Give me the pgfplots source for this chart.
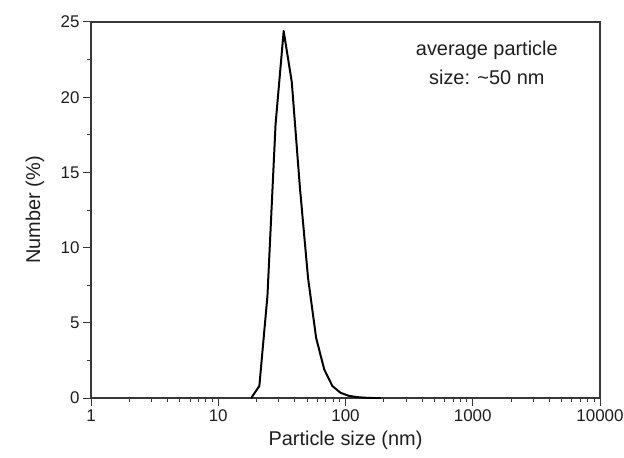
\documentclass[border=0pt]{standalone}
\usepackage{pgfplots}
\pgfplotsset{compat=1.18}
\usepackage{fontspec}
\setmainfont{Liberation Sans}
\definecolor{txt}{RGB}{30,30,30}
\definecolor{frame}{RGB}{55,55,55}
\begin{document}
\begin{tikzpicture}
\begin{axis}[
  scale only axis,
  width=509bp, height=376bp,
  xmode=log, log basis x=10,
  xmin=1, xmax=10000, ymin=0, ymax=25,
  xtick={1,10,100,1000,10000},
  xticklabels={1,10,100,1000,10000},
  minor xtick={2,3,4,5,6,7,8,9,20,30,40,50,60,70,80,90,200,300,400,500,600,700,800,900,2000,3000,4000,5000,6000,7000,8000,9000},
  ytick={0,5,10,15,20,25},
  minor ytick={2.5,7.5,12.5,17.5,22.5},
  xtick pos=bottom, ytick pos=left,
  tick align=outside,
  major tick length=8bp, minor tick length=4bp,
  every tick/.style={frame, line width=1pt},
  axis line style={frame, line width=1.2pt},
  /pgf/number format/assume math mode=true,
  tick label style={font=\fontsize{17}{19}\selectfont, text=txt},
  label style={font=\fontsize{20}{22}\selectfont, text=txt},
  xlabel={Particle size (nm)},
  ylabel={Number (\%)},
  xlabel style={at={(axis description cs:0.5,-0.112)}, anchor=center},
  ylabel style={at={(axis description cs:-0.110,0.5)}, anchor=center, rotate=0},
  clip=false,
]
\addplot[black, line width=2pt, line join=round] coordinates {
(18.17,0) (21.04,0.8) (24.36,6.8) (28.21,18.2) (32.67,24.4) (37.84,21.0)
(43.82,14.0) (50.75,8.0) (58.77,4.0) (68.06,1.9) (78.82,0.8) (91.28,0.35)
(105.7,0.15) (122.4,0.06) (141.8,0.02) (164.2,0) (190.1,0)
};
\node[align=center, text=txt, font=\fontsize{20}{29}\selectfont] at (axis cs:1290,22.3) {average particle\\size: \textasciitilde50 nm};
\end{axis}
\pgfresetboundingbox
\useasboundingbox (-91bp,-60bp) rectangle (533bp,398bp);
\end{tikzpicture}
\end{document}
